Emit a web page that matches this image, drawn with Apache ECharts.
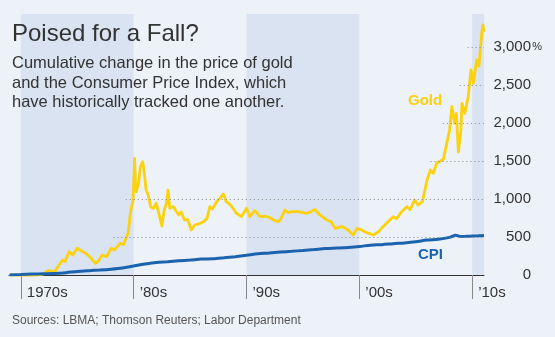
<!DOCTYPE html>
<html>
<head>
<meta charset="utf-8">
<script src="https://cdn.jsdelivr.net/npm/echarts@6/dist/echarts.min.js"></script>
<style>
html,body{margin:0;padding:0;background:#edf1f8;}
#chart{width:555px;height:337px;}
</style>
</head>
<body>
<div id="chart"></div>
<script>
// ---- data ----
const goldYears = [1969.0,1969.5,1970.0,1970.5,1971.0,1971.5,1971.95,1972.4,1972.7,1973.0,1973.5,1973.7,1973.9,1974.3,1974.6,1975.0,1975.35,1975.7,1976.1,1976.6,1976.9,1977.2,1977.6,1978.0,1978.3,1978.8,1979.1,1979.5,1979.75,1979.95,1980.08,1980.18,1980.25,1980.45,1980.6,1980.8,1980.95,1981.1,1981.3,1981.5,1981.75,1982.0,1982.3,1982.5,1982.7,1982.9,1983.05,1983.2,1983.5,1983.8,1984.0,1984.2,1984.5,1984.8,1985.1,1985.4,1985.9,1986.2,1986.5,1986.75,1987.0,1987.35,1987.65,1987.95,1988.2,1988.45,1988.7,1989.1,1989.55,1990.0,1990.3,1990.75,1991.2,1991.6,1992.0,1992.4,1992.8,1993.0,1993.4,1993.7,1994.1,1994.6,1995.3,1995.7,1996.05,1996.5,1997.1,1997.5,1997.85,1998.4,1998.7,1999.0,1999.45,1999.8,2000.2,2000.65,2001.25,2001.7,2002.1,2002.55,2003.0,2003.3,2003.75,2004.2,2004.5,2004.9,2005.2,2005.6,2006.0,2006.3,2006.55,2006.85,2007.2,2007.45,2007.75,2008.0,2008.2,2008.45,2008.6,2008.78,2009.0,2009.1,2009.35,2009.65,2009.9,2010.1,2010.4,2010.6,2010.85,2010.95,2011.05];
const goldValues = [0,-2,-12,-15,-8,-2,10,57,50,44,157,197,175,307,263,351,320,289,241,154,190,263,241,351,330,417,400,548,855,987,1535,1150,1097,1228,1425,1491,1338,1118,1050,899,877,943,768,645,855,943,1118,877,900,833,790,830,724,730,592,658,680,701,746,899,870,965,1009,1066,965,940,899,812,768,877,768,846,768,775,760,724,701,724,855,820,833,833,812,830,864,790,724,700,614,636,620,592,526,614,592,557,526,570,636,701,768,740,833,899,860,987,921,965,1250,1382,1338,1470,1500,1522,1733,1908,2215,1996,2127,1620,1900,2259,2127,2346,2697,2522,2829,2750,3180,3290,3202];
const cpiYears = [1969,1970,1971,1972,1973,1974,1975,1976,1977,1978,1979,1980,1981,1982,1983,1984,1985,1986,1987,1988,1989,1990,1991,1992,1993,1994,1995,1996,1997,1998,1999,2000,2001,2002,2003,2004,2005,2006,2007,2008.0,2008.55,2009.0,2009.5,2010.0,2010.5,2011.05];
const cpiValues = [0,6,12,16,20,31,47,57,65,76,92,119,145,166,175,187,197,209,213,226,241,259,279,289,302,312,323,335,348,355,363,375,393,399,412,422,437,459,470,495,522,506,510,512,515,520];
const decadeTicks = [1970,1980,1990,2000,2010];
const decadeLabels = ['1970s','\u201980s','\u201990s','\u201900s','\u201910s'];
const yTicks = [0,500,1000,1500,2000,2500,3000];
const shadedDecades = [[1970,1980],[1990,2000],[2010,2011.05]];
const gridLevels = [500,1000,1500,2000,2500,3000];
const gridStartYears = [1978.2,1979.3,2006.3,2007.4,2008.9,2009.6];

const X_MIN = 1968.95, X_MAX = 2011.05, Y_MAX = 3434;
const FONT = "'Liberation Sans', Arial, sans-serif";
const GOLD = '#fcd20f', BLUE = '#1b63ae';

const zip = (xs, ys) => xs.map((x, i) => [x, ys[i]]);
const fmt = v => v.toLocaleString('en-US');

const chart = echarts.init(document.getElementById('chart'), null, {renderer: 'canvas'});
chart.setOption({
  backgroundColor: '#edf1f8',
  animation: false,
  grid: {left: 9, right: 71, top: 14, bottom: 62, containLabel: false, outerBoundsMode: 'none'},
  xAxis: {
    type: 'value', min: X_MIN, max: X_MAX,
    axisLine: {show: true, lineStyle: {color: '#333', width: 1.2}},
    axisTick: {show: true, customValues: decadeTicks, length: 24, lineStyle: {color: '#888', width: 1}},
    axisLabel: {
      customValues: decadeTicks, align: 'left', margin: 10, padding: [0,0,0,6],
      color: '#333', fontSize: 15, fontFamily: FONT,
      formatter: v => decadeLabels[decadeTicks.indexOf(Math.round(v))] || ''
    },
    splitLine: {show: false}
  },
  yAxis: {
    type: 'value', position: 'right', min: 0, max: Y_MAX,
    axisLine: {show: false}, axisTick: {show: false}, splitLine: {show: false},
    axisLabel: {
      customValues: yTicks, align: 'right', margin: 58,
      color: '#333', fontSize: 15, fontFamily: FONT,
      formatter: v => v === 3000 ? '{n|' + fmt(v) + '}{p|%}' : '{n|' + fmt(v) + '}{s| }',
      rich: {
        n: {fontSize: 15, fontFamily: FONT, color: '#333'},
        p: {fontSize: 11, fontFamily: FONT, color: '#333', width: 11, align: 'right'},
        s: {fontSize: 11, width: 11}
      }
    }
  },
  series: [
    {
      type: 'line', data: [], z: 1, silent: true,
      markArea: {
        silent: true,
        itemStyle: {color: '#dae3f1'},
        data: shadedDecades.map(d => [{xAxis: d[0]}, {xAxis: d[1]}])
      },
      markLine: {
        silent: true, symbol: ['none','none'], label: {show: false},
        lineStyle: {color: '#888', width: 1, type: [1, 3]},
        data: gridLevels.map((lv, i) => [{coord: [gridStartYears[i], lv]}, {coord: [X_MAX, lv]}])
      }
    },
    {
      name: 'Gold', type: 'line', data: zip(goldYears, goldValues), z: 3,
      showSymbol: false, symbol: 'none',
      lineStyle: {color: GOLD, width: 2.8, join: 'round'}
    },
    {
      name: 'CPI', type: 'line', data: zip(cpiYears, cpiValues), z: 4,
      showSymbol: false, symbol: 'none', smooth: 0.3,
      lineStyle: {color: BLUE, width: 3}
    }
  ],
  graphic: {
    elements: [
      {type: 'text', z: 100, x: 12, y: 34.5, style: {text: 'Poised for a Fall?', fill: '#333', fontSize: 24, fontFamily: FONT, align: 'left', verticalAlign: 'middle'}},
      {type: 'text', z: 100, x: 12, y: 63.5, style: {text: 'Cumulative change in the price of gold', fill: '#333', fontSize: 16.5, fontFamily: FONT, align: 'left', verticalAlign: 'middle'}},
      {type: 'text', z: 100, x: 12, y: 83, style: {text: 'and the Consumer Price Index, which', fill: '#333', fontSize: 16.5, fontFamily: FONT, align: 'left', verticalAlign: 'middle'}},
      {type: 'text', z: 100, x: 12, y: 102.5, style: {text: 'have historically tracked one another.', fill: '#333', fontSize: 16.5, fontFamily: FONT, align: 'left', verticalAlign: 'middle'}},
      {type: 'text', z: 100, x: 408, y: 101, style: {text: 'Gold', fill: GOLD, fontSize: 15, fontWeight: 'bold', fontFamily: FONT, align: 'left', verticalAlign: 'middle'}},
      {type: 'text', z: 100, x: 418, y: 255, style: {text: 'CPI', fill: BLUE, fontSize: 15, fontWeight: 'bold', fontFamily: FONT, align: 'left', verticalAlign: 'middle'}},
      {type: 'text', z: 100, x: 12, y: 321, style: {text: 'Sources: LBMA; Thomson Reuters; Labor Department', fill: '#555', fontSize: 12, fontFamily: FONT, align: 'left', verticalAlign: 'middle'}}
    ]
  }
});
</script>
</body>
</html>
